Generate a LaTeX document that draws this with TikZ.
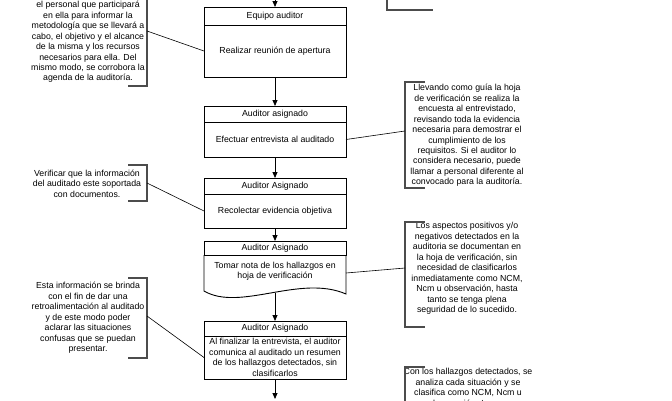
\documentclass[tikz,border=0pt]{standalone}
\usepackage{fontspec}
\setmainfont{Liberation Sans}
\usetikzlibrary{arrows.meta}
\begin{document}
\begin{tikzpicture}[x=1bp,y=-1bp,
  every node/.style={inner sep=0pt, outer sep=0pt},
  txt/.style={font=\fontsize{8.8}{10.5}\selectfont, align=center},
  box/.style={draw, line width=0.9bp, minimum width=142bp, font=\fontsize{8.8}{10.5}\selectfont, align=center},
  arr/.style={line width=0.8bp, -{Triangle[length=6bp,width=5bp]}},
  conn/.style={line width=0.6bp},
  brk/.style={line width=1.1bp, draw=black!70},
]
\useasboundingbox (0,0) rectangle (672,400);

% main column
\node[box, minimum height=18bp] (h1) at (275,16) {Equipo auditor};
\node[box, minimum height=52bp, anchor=north] (b1) at (h1.south) {Realizar reunión de apertura};
\node[box, minimum height=16bp] (h2) at (275,114) {Auditor asignado};
\node[box, minimum height=35bp, anchor=north] (b2) at (h2.south) {Efectuar entrevista al auditado};
\node[box, minimum height=16bp] (h3) at (275,186) {Auditor Asignado};
\node[box, minimum height=34bp, anchor=north] (b3) at (h3.south) {Recolectar evidencia objetiva};
\node[box, minimum height=14bp] (h4) at (275,248) {Auditor Asignado};
\node[minimum width=142bp, minimum height=36bp, anchor=north] (b4) at (h4.south) {};
\draw[line width=0.9bp] (b4.north west) -- (204,291) .. controls (240,312) and (300,274) .. (346,294) -- (b4.north east);
\node[txt] (t4) at (275,271) {Tomar nota de los hallazgos en\\hoja de verificación};
\node[box, minimum height=15bp] (h5) at (275,328.5) {Auditor Asignado};
\node[box, minimum height=43bp, anchor=north] (b5) at (h5.south) {Al finalizar la entrevista, el auditor\\comunica al auditado un resumen\\de los hallazgos detectados, sin\\clasificarlos};

% flow arrows
\coordinate (top) at (275,0);
\coordinate (w4) at (275,293);
\coordinate (bot) at (275,399);
\draw[arr] (top) -- (h1.north);
\draw[arr] (b1.south) -- (h2.north);
\draw[arr] (b2.south) -- (h3.north);
\draw[arr] (b3.south) -- (h4.north);
\draw[arr] (w4) -- (h5.north);
\draw[arr] (b5.south) -- (bot);

% annotations
\node[txt] (n1) at (88,42) {el personal que participará\\en ella para informar la\\metodología que se llevará a\\cabo, el objetivo y el alcance\\de la misma y los recursos\\necesarios para ella. Del\\mismo modo, se corrobora la\\agenda de la auditoría.};
\draw[brk] (147,-2) -- (147,86) -- (128,86);
\coordinate (a1) at (147,31);
\draw[conn] (a1) -- (b1.west);

\draw[brk] (387,-2) -- (387,10) -- (433,10);

\node[txt] (n2) at (467,135.5) {Llevando como guía la hoja\\de verificación se realiza la\\encuesta al entrevistado,\\revisando toda la evidencia\\necesaria para demostrar el\\cumplimiento de los\\requisitos. Si el auditor lo\\considera necesario, puede\\llamar a personal diferente al\\convocado para la auditoría.};
\draw[brk] (425,82) -- (405,82) -- (405,188) -- (425,188);
\coordinate (a2) at (405,131);
\draw[conn] (b2.east) -- (a2);

\node[txt] (n3) at (87,183.5) {Verificar que la información\\del auditado este soportada\\con documentos.};
\draw[brk] (128,165) -- (147,165) -- (147,201) -- (128,201);
\coordinate (a3) at (147,183);
\draw[conn] (a3) -- (b3.west);

\node[txt] (n5) at (467,268.5) {Los aspectos positivos y/o\\negativos detectados en la\\auditoria se documentan en\\la hoja de verificación, sin\\necesidad de clasificarlos\\inmediatamente como NCM,\\Ncm u observación, hasta\\tanto se tenga plena\\seguridad de lo sucedido.};
\draw[brk] (425,222) -- (405,222) -- (405,327) -- (425,327);
\coordinate (a5) at (405,268);
\draw[conn] (b4.east) -- (a5);

\node[txt] (n4) at (88,318) {Esta información se brinda\\con el fin de dar una\\retroalimentación al auditado\\y de este modo poder\\aclarar las situaciones\\confusas que se puedan\\presentar.};
\draw[brk] (128,278) -- (147,278) -- (147,358) -- (128,358);
\coordinate (a4) at (147,316);
\draw[conn] (a4) -- (b5.west);

\node[txt] (n6) at (468,387.5) {Con los hallazgos detectados, se\\analiza cada situación y se\\clasifica como NCM, Ncm u\\observación. Las no};
\draw[brk] (425,367) -- (405,367) -- (405,402);
\end{tikzpicture}
\end{document}
